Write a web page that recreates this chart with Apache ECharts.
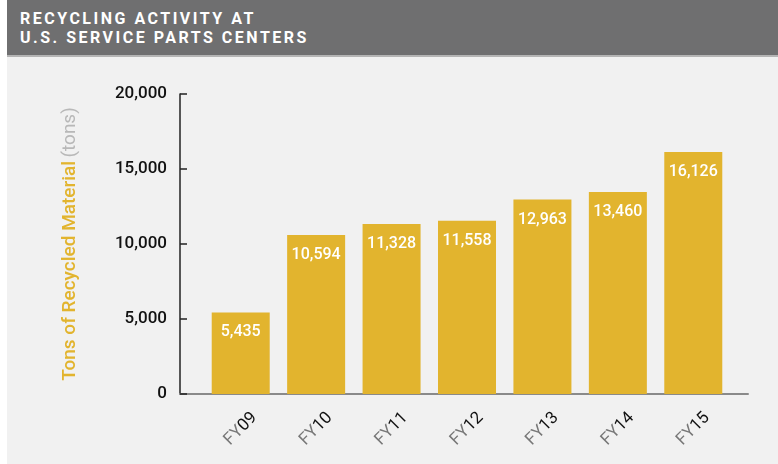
<!DOCTYPE html>
<html>
<head>
<meta charset="utf-8">
<script src="https://cdn.jsdelivr.net/npm/echarts@6/dist/echarts.min.js"></script>
<style>
  html, body { margin: 0; padding: 0; background: #ffffff; }
  #wrap { position: absolute; left: 7px; top: 0; width: 771px; height: 464px; background: #f1f1f1; }
  #header {
    position: absolute; left: 0; top: 0; width: 771px; height: 57px;
    background: #6f6f70; border-bottom: 2px solid #b4b4b4;
    color: #ffffff; font-family: Roboto, "Liberation Sans", sans-serif;
    font-weight: bold; font-size: 16px; letter-spacing: 2.5px; line-height: 19px;
    box-sizing: border-box; padding: 9px 0 0 13px;
  }
  #chart { position: absolute; left: 0; top: 0; width: 771px; height: 464px; }
</style>
</head>
<body>
<div id="wrap">
  <div id="chart"></div>
  <div id="header">RECYCLING ACTIVITY AT<br>U.S. SERVICE PARTS CENTERS</div>
</div>
<script>
// 数据
const years = ['09', '10', '11', '12', '13', '14', '15'];
const tons = [5435, 10594, 11328, 11558, 12963, 13460, 16126];
const yTicks = [0, 5000, 10000, 15000, 20000];

const FONT = 'Roboto, "Liberation Sans", sans-serif';
const GOLD = '#e2b42e';

const chart = echarts.init(document.getElementById('chart'));

const option = {
  animation: false,
  grid: [
    // 坐标轴线用
    { left: 173, right: 30, top: 94, bottom: 70 },
    // 柱子用
    { left: 196, right: 47, top: 94, bottom: 70 }
  ],
  xAxis: [
    {
      gridIndex: 0, type: 'value', min: 0, max: 1,
      axisLine: { show: true, lineStyle: { color: '#8a8a8a', width: 2 } },
      axisTick: { show: false }, axisLabel: { show: false }, splitLine: { show: false }
    },
    {
      gridIndex: 1, type: 'category', data: years,
      axisLine: { show: false }, axisTick: { show: false },
      axisLabel: {
        rotate: 45, margin: 35, align: 'center', verticalAlign: 'middle',
        fontFamily: FONT, fontSize: 17,
        formatter: v => '{fy|FY}{n|' + v + '}',
        rich: {
          fy: { color: '#777777', fontFamily: FONT, fontSize: 17 },
          n: { color: '#111111', fontFamily: FONT, fontSize: 17 }
        }
      }
    }
  ],
  yAxis: [
    {
      gridIndex: 0, type: 'value', min: yTicks[0], max: yTicks[yTicks.length - 1], interval: 5000,
      axisLine: { show: true, lineStyle: { color: '#222222', width: 1.5 } },
      axisTick: { show: true, inside: true, length: 7, lineStyle: { color: '#222222', width: 1.5 } },
      splitLine: { show: false },
      axisLabel: {
        margin: 13, color: '#111111', fontFamily: FONT, fontSize: 17, fontWeight: 500,
        formatter: v => v.toLocaleString('en-US')
      },
      name: '{a|Tons of Recycled Material} {b|(tons)}',
      nameLocation: 'middle', nameRotate: 90, nameGap: 100,
      nameTextStyle: {
        rich: {
          a: { color: GOLD, fontFamily: FONT, fontSize: 19, fontWeight: 500 },
          b: { color: '#b8b8b8', fontFamily: FONT, fontSize: 19 }
        }
      }
    },
    {
      gridIndex: 1, type: 'value', min: yTicks[0], max: yTicks[yTicks.length - 1],
      show: false
    }
  ],
  series: [{
    type: 'bar',
    xAxisIndex: 1, yAxisIndex: 1,
    data: tons,
    barWidth: 58,
    itemStyle: { color: GOLD },
    label: {
      show: true, position: 'insideTop', distance: 12,
      color: '#ffffff', fontFamily: FONT, fontSize: 16, fontWeight: 500,
      formatter: p => p.value.toLocaleString('en-US')
    }
  }]
};

chart.setOption(option);
</script>
</body>
</html>
